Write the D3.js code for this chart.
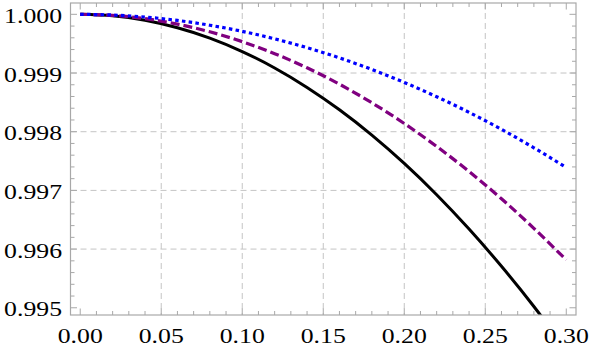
<!DOCTYPE html>
<html><head><meta charset="utf-8">
<script src="https://cdn.jsdelivr.net/npm/d3@7"></script>
<style>html,body{margin:0;padding:0;background:#fff;}svg{display:block;}</style>
</head><body>
<svg id="chart" width="592" height="349"></svg>
<script>
const xs = [0.00,0.02,0.04,0.06,0.08,0.10,0.12,0.14,0.16,0.18,0.20,0.22,0.24,0.26,0.28,0.30];
const blackSolid = [1.000000,0.999975,0.999898,0.999771,0.999594,0.999365,0.999086,0.998755,0.998374,0.997943,0.997460,0.996927,0.996342,0.995707,0.995022,0.994285];
const purpleDashed = [1.000000,0.999981,0.999926,0.999833,0.999702,0.999535,0.999330,0.999089,0.998810,0.998493,0.998140,0.997749,0.997322,0.996857,0.996354,0.995815];
const blueDotted = [1.000000,0.999988,0.999954,0.999896,0.999814,0.999710,0.999582,0.999432,0.999258,0.999060,0.998840,0.998596,0.998330,0.998040,0.997726,0.997390];
const xTickValues = [0.00,0.05,0.10,0.15,0.20,0.25,0.30];
const xTickLabels = ["0.00","0.05","0.10","0.15","0.20","0.25","0.30"];
const yTickValues = [0.995,0.996,0.997,0.998,0.999,1.000];
const yTickLabels = ["0.995","0.996","0.997","0.998","0.999","1.000"];
const xMinor = d3.range(0,31).map(i=>i/100);
const yMinor = d3.range(0,26).map(i=>0.995+i*0.0002);
const xGrid = [0.05,0.10,0.15,0.20,0.25];
const yGrid = [0.996,0.997,0.998,0.999];

const L=70.5, R=576, T=3, B=315;
const x = d3.scaleLinear().domain([-0.006,0.306]).range([L,R]);
const y = d3.scaleLinear().domain([0.994877,1.000193]).range([B,T]);
const svg = d3.select("#chart");
const frameCol = "#a8a8a8";

svg.append("defs").append("clipPath").attr("id","clip")
  .append("rect").attr("x",L).attr("y",T).attr("width",R-L).attr("height",B-T);

// grid
svg.append("g").selectAll("line").data(xGrid).join("line")
  .attr("x1",d=>x(d)).attr("x2",d=>x(d)).attr("y1",T).attr("y2",B)
  .attr("stroke","#c4c4c4").attr("stroke-width",1).attr("stroke-dasharray","6,4");
svg.append("g").selectAll("line").data(yGrid).join("line")
  .attr("x1",L).attr("x2",R).attr("y1",d=>y(d)).attr("y2",d=>y(d))
  .attr("stroke","#c4c4c4").attr("stroke-width",1).attr("stroke-dasharray","6,4");

// series
const series = [
  {vals: blackSolid, color:"#000000", dash:null, w:3},
  {vals: purpleDashed, color:"#800080", dash:"9,4", w:3.2},
  {vals: blueDotted, color:"#0000ff", dash:"3.5,3.3", w:3.2}
];
const line = d3.line().x(d=>x(d[0])).y(d=>y(d[1])).curve(d3.curveNatural);
const gl = svg.append("g").attr("clip-path","url(#clip)");
series.forEach(s=>{
  gl.append("path").datum(xs.map((v,i)=>[v,s.vals[i]]))
    .attr("d",line).attr("fill","none").attr("stroke",s.color)
    .attr("stroke-width",s.w).attr("stroke-dasharray",s.dash);
});

// frame
svg.append("rect").attr("x",L).attr("y",T).attr("width",R-L).attr("height",B-T)
  .attr("fill","none").attr("stroke",frameCol).attr("stroke-width",1.2);

// ticks
const tg = svg.append("g").attr("stroke",frameCol).attr("stroke-width",1);
const isMajorX = d=>xTickValues.some(v=>Math.abs(v-d)<1e-9);
const isMajorY = d=>yTickValues.some(v=>Math.abs(v-d)<1e-9);
tg.selectAll(".xb").data(xMinor).join("line")
  .attr("x1",d=>x(d)).attr("x2",d=>x(d)).attr("y1",B).attr("y2",d=>B-(isMajorX(d)?6.5:4));
tg.selectAll(".xt").data(xMinor).join("line")
  .attr("x1",d=>x(d)).attr("x2",d=>x(d)).attr("y1",T).attr("y2",d=>T+(isMajorX(d)?6.5:4));
tg.selectAll(".yl").data(yMinor).join("line")
  .attr("y1",d=>y(d)).attr("y2",d=>y(d)).attr("x1",L).attr("x2",d=>L+(isMajorY(d)?6.5:4));
tg.selectAll(".yr").data(yMinor).join("line")
  .attr("y1",d=>y(d)).attr("y2",d=>y(d)).attr("x1",R).attr("x2",d=>R-(isMajorY(d)?6.5:4));

// labels
const font = "'Liberation Serif','Times New Roman',serif";
svg.append("g").selectAll("text").data(xTickValues).join("text")
  .attr("transform",d=>`translate(${x(d)},343) scale(1.17,1)`)
  .attr("text-anchor","middle").attr("font-family",font).attr("font-size",22)
  .attr("fill","#000").text((d,i)=>xTickLabels[i]);
svg.append("g").selectAll("text").data(yTickValues).join("text")
  .attr("transform",d=>`translate(62,${y(d)+8.5}) scale(1.17,1)`)
  .attr("text-anchor","end").attr("font-family",font).attr("font-size",22)
  .attr("fill","#000").text((d,i)=>yTickLabels[i]);
</script>
</body></html>
